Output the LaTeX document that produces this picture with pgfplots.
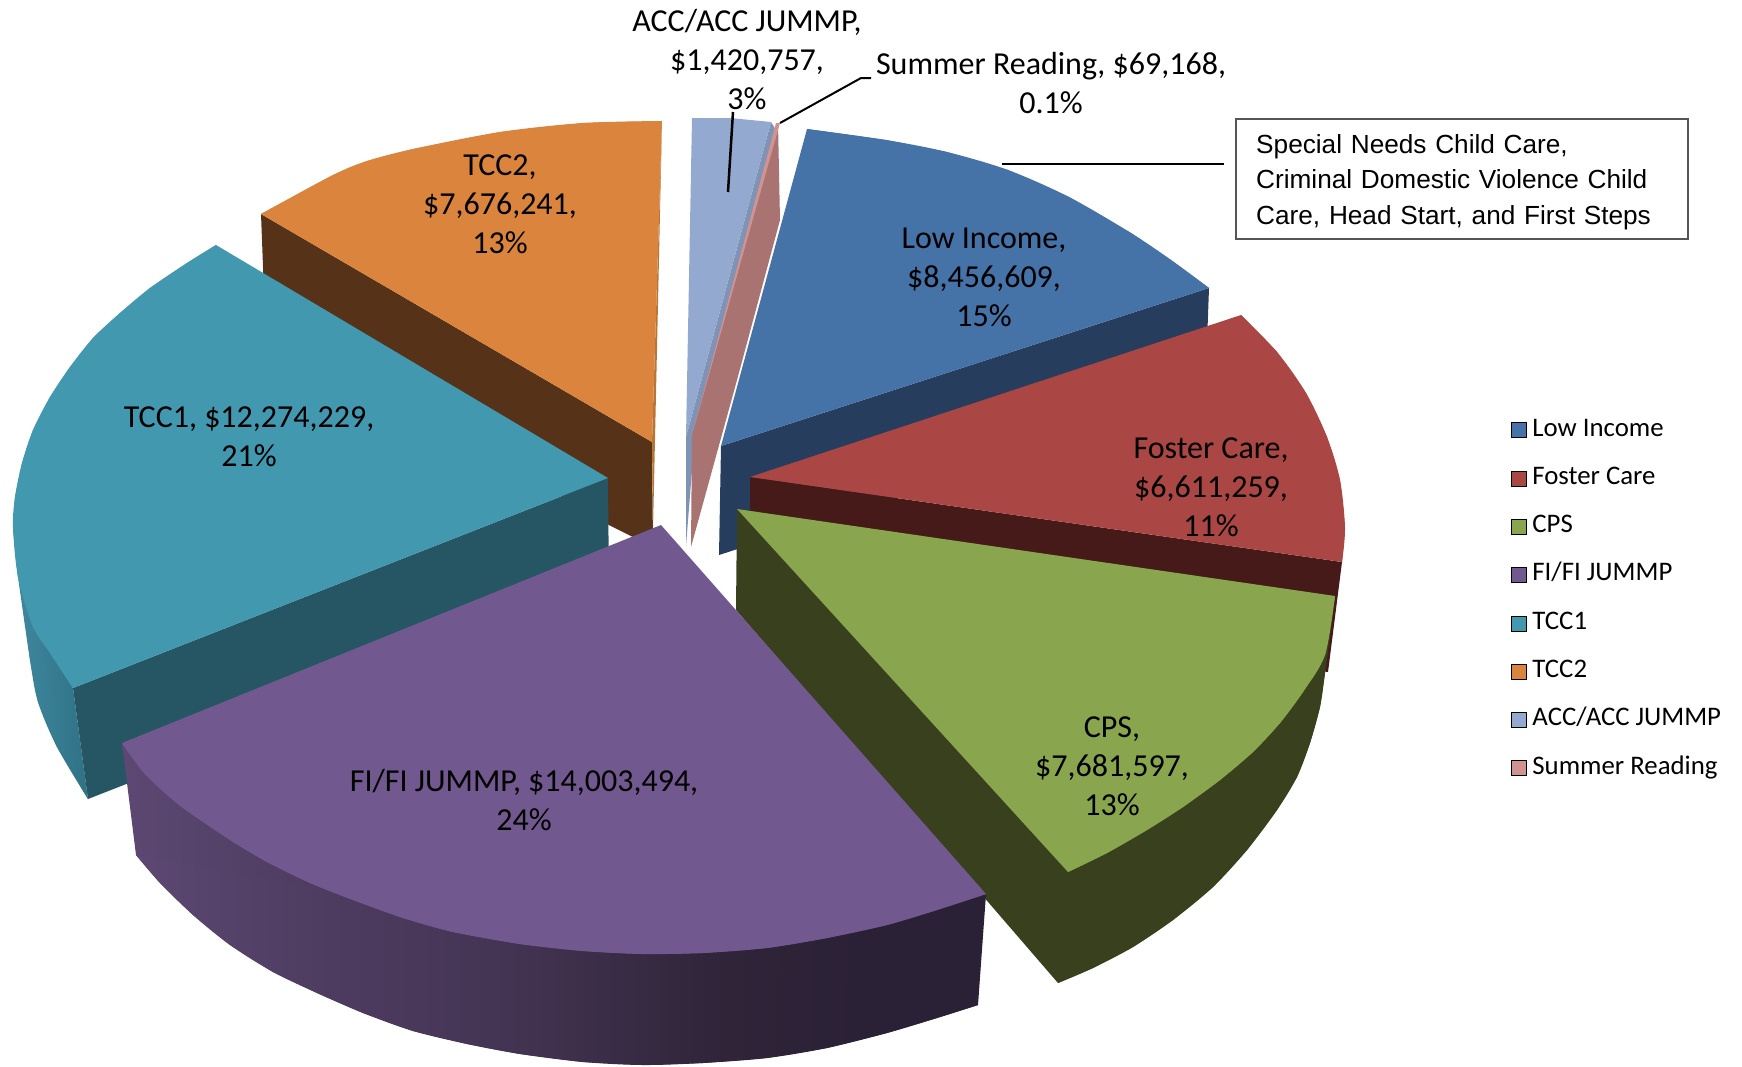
\documentclass[border=0pt]{standalone}
\usepackage{fontspec}
\setmainfont{Carlito}
\newfontfamily\arial{Liberation Sans}
\usepackage{pgfplots}
\pgfplotsset{compat=1.18}

\definecolor{lowinc}{HTML}{4572A7}
\definecolor{lowincd}{HTML}{273D5E}
\definecolor{foster}{HTML}{AA4643}
\definecolor{fosterd}{HTML}{451A18}
\definecolor{cps}{HTML}{89A54E}
\definecolor{cpsd}{HTML}{38401D}
\definecolor{fi}{HTML}{71588F}
\definecolor{fia}{HTML}{5C4872}
\definecolor{fib}{HTML}{4F3D62}
\definecolor{fic}{HTML}{443453}
\definecolor{fid}{HTML}{2F2438}
\definecolor{fie}{HTML}{2B2136}
\definecolor{tccone}{HTML}{4198AF}
\definecolor{tcconed}{HTML}{265664}
\definecolor{tccoa}{HTML}{3E879E}
\definecolor{tccob}{HTML}{307286}
\definecolor{tcctwo}{HTML}{DB843D}
\definecolor{tcctwod}{HTML}{553218}
\definecolor{tcctwos}{HTML}{B87636}
\definecolor{acc}{HTML}{93A9CF}
\definecolor{accd}{HTML}{7F93B5}
\definecolor{summer}{HTML}{D19392}
\definecolor{summerd}{HTML}{A97372}
\definecolor{boxedge}{HTML}{555555}

\pgfdeclarehorizontalshading{fiside}{100bp}{color(0bp)=(fia); color(25bp)=(fia); color(35bp)=(fib); color(47bp)=(fic); color(60bp)=(fid); color(68bp)=(fie); color(100bp)=(fie)}

\pgfplotsset{
  face/.style={draw=none,fill=#1,mark=none,forget plot},
  fishade/.style={draw=none,mark=none,forget plot,shade,shading=fiside},
  tccshade/.style={draw=none,mark=none,forget plot,left color=tccoa,right color=tccob},
}
\newcommand{\lab}{\fontsize{32}{39}\selectfont}

\begin{document}
\begin{tikzpicture}
\useasboundingbox (0,0) rectangle (1742pt,1066pt);
\begin{axis}[
  at={(0,0)}, anchor=south west,
  scale only axis, width=1742pt, height=1066pt,
  xmin=0, xmax=1742, ymin=0, ymax=1066, y dir=reverse,
  hide axis, clip=false,
  legend image code/.code={\fill[#1] (0pt,-7.5pt) rectangle (15pt,7.5pt); \path (21pt,0pt);},
  legend style={at={(axis cs:1511,417)}, anchor=north west, draw=none, fill=none,
    inner sep=0pt, outer sep=0pt, row sep=22.3pt,
    font=\fontsize{26.8}{30}\selectfont,
    nodes={inner sep=0pt, text height=19pt, text depth=7pt},
    cells={anchor=west}},
]
\addlegendimage{fill=lowinc}\addlegendentry{Low Income}
\addlegendimage{fill=foster}\addlegendentry{Foster Care}
\addlegendimage{fill=cps}\addlegendentry{CPS}
\addlegendimage{fill=fi}\addlegendentry{FI/FI JUMMP}
\addlegendimage{fill=tccone}\addlegendentry{TCC1}
\addlegendimage{fill=tcctwo}\addlegendentry{TCC2}
\addlegendimage{fill=acc}\addlegendentry{ACC/ACC JUMMP}
\addlegendimage{fill=summer}\addlegendentry{Summer Reading}

% each rim is a polygon through the read points, then a smooth fill over it
% TCC2
\addplot[face=tcctwod] coordinates {(261,214)(652,442)(653,547)(609,525)(265,319)} --cycle;
\addplot[face=tcctwos] coordinates {(662,121)(653,530)(652,442)} --cycle;
\addplot[face=tcctwo] coordinates {(261,214)(333,175)(367,161)(413,149)(500,132)(583,123)(662,121)(652,442)} --cycle;
\addplot[face=tcctwo,smooth] coordinates {(261,214)(333,175)(367,161)(413,149)(500,132)(583,123)(662,121)} --cycle;

% TCC1
\addplot[tccshade] coordinates {(13,527)(18,577)(73,688)(88,799)(57,747)(38,702)(30,660)} --cycle;
\addplot[tccshade,smooth] coordinates {(18,577)(30,660)(38,702)(57,747)(88,799)} --cycle;
\addplot[face=tcconed] coordinates {(73,688)(608,478)(609,595)(88,799)} --cycle;
\addplot[face=tccone] coordinates {(216,245)(187,263)(150,288)(120,313)(93,338)(70,367)(50,397)(33,430)(22,463)(15,497)(13,527)(18,577)(33,627)(50,653)(73,688)(608,478)} --cycle;
\addplot[face=tccone,smooth] coordinates {(216,245)(187,263)(150,288)(120,313)(93,338)(70,367)(50,397)(33,430)(22,463)(15,497)(13,527)(18,577)(33,627)(50,653)(73,688)} --cycle;

% ACC
\addplot[face=accd] coordinates {(771,122)(776,130)(692,470)(686,546)(686,437)} --cycle;
\addplot[face=acc] coordinates {(692,118)(730,118)(771,122)(686,437)} --cycle;

% Summer Reading
\addplot[face=summerd] coordinates {(778,123)(780,220)(737,380)(691,547)(692,435)} --cycle;
\addplot[face=summer] coordinates {(776,123)(780,123)(692,435)} --cycle;

% Low Income
\addplot[face=lowincd] coordinates {(721,446)(1209,288)(1205,398)(719,555)} --cycle;
\addplot[face=lowinc] coordinates {(807,129)(886,140)(947,152)(1008,170)(1069,197)(1131,233)(1171,260)(1209,288)(721,446)} --cycle;
\addplot[face=lowinc,smooth] coordinates {(807,129)(886,140)(947,152)(1008,170)(1069,197)(1131,233)(1171,260)(1209,288)} --cycle;

% Foster Care
\addplot[face=fosterd] coordinates {(750,477)(1342,562)(1328,672)(750,590)} --cycle;
\addplot[face=foster] coordinates {(1241,315)(1277,352)(1306,393)(1327,437)(1340,480)(1345,528)(1342,562)(750,477)} --cycle;
\addplot[face=foster,smooth] coordinates {(1241,315)(1277,352)(1306,393)(1327,437)(1340,480)(1345,528)(1342,562)} --cycle;

% CPS
\addplot[face=cpsd] coordinates {(737,509)(1335,596)(1325,673)(1320,707)(1310,743)(1297,777)(1277,810)(1247,850)(1213,887)(1173,920)(1133,947)(1093,968)(1058,983)(736,610)} --cycle;
\addplot[face=cpsd,smooth] coordinates {(1335,596)(1325,673)(1320,707)(1310,743)(1297,777)(1277,810)(1247,850)(1213,887)(1173,920)(1133,947)(1093,968)(1058,983)} --cycle;
\addplot[face=cps] coordinates {(737,509)(1335,596)(1325,655)(1303,692)(1280,723)(1253,752)(1220,780)(1183,807)(1147,830)(1107,853)(1068,872)} --cycle;
\addplot[face=cps,smooth] coordinates {(1335,596)(1325,655)(1303,692)(1280,723)(1253,752)(1220,780)(1183,807)(1147,830)(1107,853)(1068,872)} --cycle;

% FI/FI JUMMP
\addplot[fishade] coordinates {(122,743)(986,894)(978,1005)(937,1018)(887,1033)(827,1048)(767,1058)(703,1063)(643,1065)(583,1062)(520,1054)(467,1044)(413,1031)(363,1013)(317,993)(273,972)(230,945)(193,915)(160,883)(136,855)} --cycle;
\addplot[fishade,smooth] coordinates {(136,855)(160,883)(193,915)(230,945)(273,972)(317,993)(363,1013)(413,1031)(467,1044)(520,1054)(583,1062)(643,1065)(703,1063)(767,1058)(827,1048)(887,1033)(937,1018)(978,1005)} --cycle;
\addplot[face=fi] coordinates {(661,525)(986,894)(937,910)(887,925)(827,938)(767,948)(703,953)(643,954)(583,951)(520,944)(453,932)(403,918)(353,900)(310,883)(267,862)(230,840)(179,805)(144,773)(122,743)} --cycle;
\addplot[face=fi,smooth] coordinates {(986,894)(937,910)(887,925)(827,938)(767,948)(703,953)(643,954)(583,951)(520,944)(453,932)(403,918)(353,900)(310,883)(267,862)(230,840)(179,805)(144,773)(122,743)} --cycle;

% leader lines
\addplot[black,line width=2.5pt,mark=none,forget plot] coordinates {(733,112)(728,192)};
\addplot[black,line width=2pt,mark=none,forget plot] coordinates {(780,123)(861,78)(871,78)};
\addplot[black,line width=2.5pt,mark=none,forget plot] coordinates {(1002,164)(1224,164)};

% data labels
\node[align=center,font=\lab] at (axis cs:747,60) {ACC/ACC JUMMP,\\\$1,420,757,\\3\%};
\node[align=center,font=\lab] at (axis cs:1051,83) {Summer Reading, \$69,168,\\0.1\%};
\node[align=center,font=\lab] at (axis cs:500,204) {TCC2,\\\$7,676,241,\\13\%};
\node[align=center,font=\lab] at (axis cs:984,277) {Low Income,\\\$8,456,609,\\15\%};
\node[align=center,font=\lab] at (axis cs:249,437) {TCC1, \$12,274,229,\\21\%};
\node[align=center,font=\lab] at (axis cs:1211,487) {Foster Care,\\\$6,611,259,\\11\%};
\node[align=center,font=\lab] at (axis cs:1112,766) {CPS,\\\$7,681,597,\\13\%};
\node[align=center,font=\lab] at (axis cs:524,800) {FI/FI JUMMP, \$14,003,494,\\24\%};

% text box
\node[draw=boxedge,line width=1.5pt,fill=white,anchor=north west,
  minimum width=452pt,minimum height=120pt,inner sep=0pt] at (axis cs:1235,118) {};
\node[anchor=west,text width=440pt,inner sep=0pt,align=left,font=\arial\fontsize{26.2}{35.5}\selectfont]
  at (axis cs:1256,182) {Special Needs Child Care,\\Criminal Domestic Violence Child\\Care, Head Start, and First Steps};
\end{axis}
\end{tikzpicture}
\end{document}
